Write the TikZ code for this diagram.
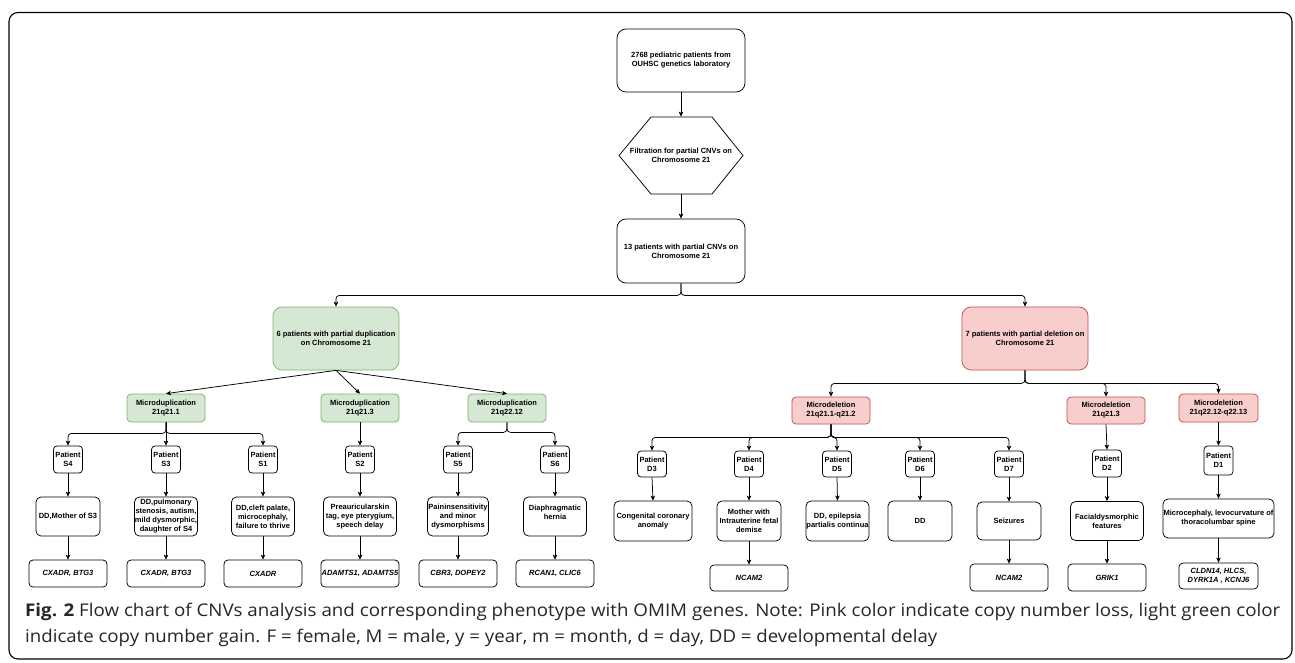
\documentclass[tikz,border=0pt]{standalone}
\usepackage{fontspec}
\setmainfont{Liberation Sans}
\newfontfamily\capfont{Open Sans}
\usetikzlibrary{arrows.meta}
\definecolor{gfill}{HTML}{D5E8D4}
\definecolor{gline}{HTML}{82B366}
\definecolor{pfill}{HTML}{F8CECC}
\definecolor{pline}{HTML}{B85450}
\tikzset{
  base/.style={draw=black, fill=white, line width=0.75pt, inner sep=0pt, align=center,
    font=\bfseries\fontsize{7.5}{9}\selectfont},
  bigbox/.style={base, rounded corners=9pt, minimum width=128pt, minimum height=63pt},
  gbig/.style={bigbox, fill=gfill, draw=gline, minimum width=126pt},
  pbig/.style={bigbox, fill=pfill, draw=pline, minimum width=126pt},
  gmid/.style={base, rounded corners=4pt, fill=gfill, draw=gline, minimum width=78pt, minimum height=28pt},
  pmid/.style={base, rounded corners=4pt, fill=pfill, draw=pline, minimum width=78pt, minimum height=27pt},
  pat/.style={base, rounded corners=3.5pt, minimum width=29pt, minimum height=27pt},
  pheno/.style={base, rounded corners=5pt, minimum height=39pt},
  gene/.style={base, rounded corners=4pt, minimum width=78pt, minimum height=27pt,
    font=\bfseries\itshape\fontsize{7.5}{9}\selectfont},
  arr/.style={-{Stealth[length=5pt,width=4.5pt,inset=1.3pt]}, line width=0.75pt, rounded corners=3.5pt},
  frame/.style={draw=black, line width=1.1pt, rounded corners=9pt},
  captxt/.style={inner sep=0pt, anchor=base west, font=\capfont\fontsize{17.5}{21}\selectfont, text=black!85}
}
\begin{document}
\begin{tikzpicture}[x=1pt,y=-1pt]
\useasboundingbox[fill=white] (0,0) rectangle (1295,662);
\draw[frame] (9,12.5) rectangle (1292,659);

% top chain
\node[bigbox] (n0) at (681,60.5) {2768 pediatric patients from\\OUHSC genetics laboratory};
\node[base, draw=none, fill=none, minimum width=124pt, minimum height=77pt] (hex) at (681,155.5) {Filtration for partial CNVs on\\Chromosome 21};
\draw[line width=0.75pt, line join=round] (619,155.5) -- (651,117) -- (712,117) -- (743,155.5) -- (712,194) -- (651,194) -- cycle;
\node[bigbox, minimum height=64pt] (n13) at (681,251) {13 patients with partial CNVs on\\Chromosome 21};
\draw[arr] (n0.south) -- (hex.north);
\draw[arr] (hex.south) -- (n13.north);

\node[gbig] (dup) at (336,338.5) {6 patients with partial duplication\\on Chromosome 21};
\node[pbig] (del) at (1025,338.5) {7 patients with partial deletion on\\Chromosome 21};
\draw[arr] (n13.south) -- ++(0,12) -| (dup.north);
\draw[arr] (n13.south) -- ++(0,12) -| (del.north);

% duplication side
\node[gmid] (md1) at (166,408) {Microduplication\\21q21.1};
\node[gmid] (md2) at (360,408) {Microduplication\\21q21.3};
\node[gmid] (md3) at (507,408) {Microduplication\\21q22.12};
\draw[arr] (dup.south) -- (md1.north);
\draw[arr] (dup.south) -- (md2.north);
\draw[arr] (dup.south) -- (md3.north);

\node[pat] (s4) at (68,459.5) {Patient\\S4};
\node[pat] (s3) at (166,459.5) {Patient\\S3};
\node[pat] (s1) at (263,459.5) {Patient\\S1};
\node[pat] (s2) at (360,459.5) {Patient\\S2};
\node[pat] (s5) at (458,459.5) {Patient\\S5};
\node[pat] (s6) at (555,459.5) {Patient\\S6};
\draw[arr] (md1.south) -- ++(0,11) -| (s4.north);
\draw[arr] (md1.south) -- (s3.north);
\draw[arr] (md1.south) -- ++(0,11) -| (s1.north);
\draw[arr] (md2.south) -- (s2.north);
\draw[arr] (md3.south) -- ++(0,10) -| (s5.north);
\draw[arr] (md3.south) -- ++(0,10) -| (s6.north);

\node[pheno, minimum width=64pt] (ps4) at (68,516.5) {DD,Mother of S3};
\node[pheno, minimum width=63pt] (ps3) at (166,516.5) {DD,pulmonary\\stenosis, autism,\\mild dysmorphic,\\daughter of S4};
\node[pheno, minimum width=63pt] (ps1) at (263,516.5) {DD,cleft palate,\\microcephaly,\\failure to thrive};
\node[pheno, minimum width=73pt] (ps2) at (360,516.5) {Preauricularskin\\tag, eye pterygium,\\speech delay};
\node[pheno, minimum width=61pt] (ps5) at (458,516.5) {Paininsensitivity\\and minor\\dysmorphisms};
\node[pheno, minimum width=63pt] (ps6) at (555,516.5) {Diaphragmatic\\hernia\\\mbox{}};
\foreach \a/\b in {s4/ps4,s3/ps3,s1/ps1,s2/ps2,s5/ps5,s6/ps6} \draw[arr] (\a.south) -- (\b.north);

\node[gene] (gs4) at (68,573.5) {CXADR, BTG3};
\node[gene] (gs3) at (166,573.5) {CXADR, BTG3};
\node[gene] (gs1) at (263,573.5) {CXADR};
\node[gene] (gs2) at (360,573.5) {ADAMTS1, ADAMTS5};
\node[gene] (gs5) at (458,573.5) {CBR3, DOPEY2};
\node[gene] (gs6) at (555,573.5) {RCAN1, CLIC6};
\foreach \a/\b in {ps4/gs4,ps3/gs3,ps1/gs1,ps2/gs2,ps5/gs5,ps6/gs6} \draw[arr] (\a.south) -- (\b.north);

% deletion side
\node[pmid] (ml1) at (831,410.5) {Microdeletion\\21q21.1-q21.2};
\node[pmid] (ml2) at (1106,410.5) {Microdeletion\\21q21.3};
\node[pmid, minimum height=28pt, minimum width=79pt] (ml3) at (1218.5,408) {Microdeletion\\21q22.12-q22.13};
\draw[arr] (del.south) -- ++(0,13) -| (ml1.north);
\draw[arr] (del.south) -- ++(0,13) -| (ml2.north);
\draw[arr] (del.south) -- ++(0,13) -| (ml3.north);

\node[pat, minimum height=26pt] (d3) at (652,464) {Patient\\D3};
\node[pat, minimum height=26pt] (d4) at (749,464) {Patient\\D4};
\node[pat, minimum height=26pt] (d5) at (837,464) {Patient\\D5};
\node[pat, minimum height=26pt] (d6) at (920,464) {Patient\\D6};
\node[pat, minimum height=26pt] (d7) at (1009,464) {Patient\\D7};
\node[pat, minimum height=27pt] (d2) at (1107,463.5) {Patient\\D2};
\node[pat, minimum height=29pt] (d1) at (1218.5,460.5) {Patient\\D1};
\foreach \t in {d3,d4,d5,d6,d7} \draw[arr] (ml1.south) -- ++(0,13) -| (\t.north);
\draw[arr] (ml2.south) -- (d2.north);
\draw[arr] (ml3.south) -- (d1.north);

\node[pheno, minimum width=78pt, minimum height=40pt] (pd3) at (653,521) {Congenital coronary\\anomaly};
\node[pheno, minimum width=64pt, minimum height=40pt] (pd4) at (749,521) {Mother with\\Intrauterine fetal\\demise};
\node[pheno, minimum width=63pt, minimum height=40pt] (pd5) at (837.5,521) {DD, epilepsia\\partialis continua};
\node[pheno, minimum width=64pt, minimum height=40pt] (pd6) at (920,521) {DD};
\node[pheno, minimum width=64pt, minimum height=38pt] (pd7) at (1009,521) {Seizures};
\node[pheno, minimum width=73pt, minimum height=39pt] (pd2) at (1107,521) {Facialdysmorphic\\features};
\node[pheno, minimum width=111pt, minimum height=39pt] (pd1) at (1218.5,518.5) {Microcephaly, levocurvature of\\thoracolumbar spine};
\foreach \a/\b in {d3/pd3,d4/pd4,d5/pd5,d6/pd6,d7/pd7,d2/pd2,d1/pd1} \draw[arr] (\a.south) -- (\b.north);

\node[gene, minimum height=26pt] (gd4) at (749,578) {NCAM2};
\node[gene] (gd7) at (1009,577.5) {NCAM2};
\node[gene] (gd2) at (1107,577.5) {GRIK1};
\node[gene, minimum width=79pt, minimum height=26pt] (gd1) at (1218.5,576) {CLDN14, HLCS,\\DYRK1A , KCNJ6};
\foreach \a/\b in {pd4/gd4,pd7/gd7,pd2/gd2,pd1/gd1} \draw[arr] (\a.south) -- (\b.north);

% caption
\node[captxt] (cap1) at (25,616.5) {\resizebox{1255pt}{\height}{\textbf{Fig. 2} Flow chart of CNVs analysis and corresponding phenotype with OMIM genes. Note: Pink color indicate copy number loss, light green color}};
\node[captxt] (cap2) at (25,642) {\resizebox{912pt}{\height}{indicate copy number gain. F = female, M = male, y = year, m = month, d = day, DD = developmental delay}};
\end{tikzpicture}
\end{document}
